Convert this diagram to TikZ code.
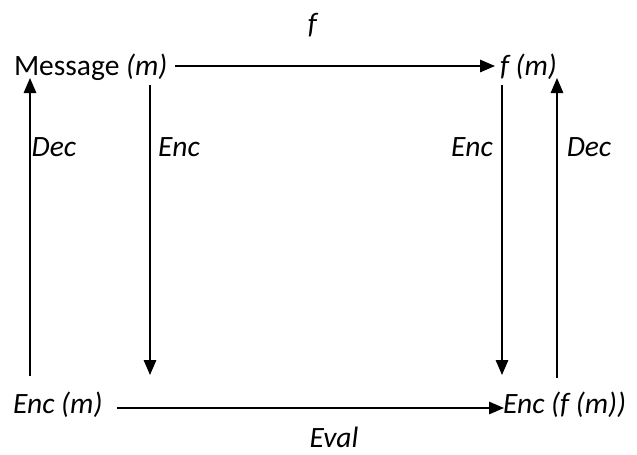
\documentclass[tikz,border=0pt]{standalone}
\usepackage{fontspec}
\setmainfont{Carlito}
\usetikzlibrary{arrows.meta}
\begin{document}
\begin{tikzpicture}[x=1pt,y=-1pt,
  every node/.style={inner sep=0pt, outer sep=0pt, font=\fontsize{29.5}{34}\selectfont},
  arr/.style={line width=1.4pt, -{Triangle[length=15pt,width=12.5pt]}}]
\useasboundingbox (0,0) rectangle (637,455);
% main nodes
\node[anchor=base west] (msg) at (14,75) {Message \textit{(m)}};
\node[anchor=base west] (fm) at (500,75) {\textit{f (m)}};
\node[anchor=base west] (encm) at (13,413) {\textit{Enc (m)}};
\node[anchor=base west] (encfm) at (503,413) {\textit{Enc (f (m))}};
% labels
\node (flbl) at (313,25) {\textit{f}};
\node[anchor=base] (eval) at (334,447) {\textit{Eval}};
\node[anchor=base] (decL) at (54,156) {\textit{Dec}};
\node[anchor=base] (encL) at (179,156) {\textit{Enc}};
\node[anchor=base] (encR) at (472,156) {\textit{Enc}};
\node[anchor=base] (decR) at (589,156) {\textit{Dec}};
% free ends of vertical connectors
\coordinate (dLb) at (30,376);
\coordinate (dLt) at (30,78);
\coordinate (eLt) at (150,85);
\coordinate (eLb) at (150,375);
\coordinate (eRt) at (502,85);
\coordinate (eRb) at (502,375);
\coordinate (dRb) at (557,378);
\coordinate (dRt) at (557,78);
\coordinate (tS) at (175,66);
\coordinate (tE) at (495,66);
\coordinate (bS) at (117,408);
\coordinate (bE) at (504,408);
% connectors
\draw[arr] (tS) -- (tE);
\draw[arr] (bS) -- (bE);
\draw[arr] (dLb) -- (dLt);
\draw[arr] (eLt) -- (eLb);
\draw[arr] (eRt) -- (eRb);
\draw[arr] (dRb) -- (dRt);
\end{tikzpicture}
\end{document}
